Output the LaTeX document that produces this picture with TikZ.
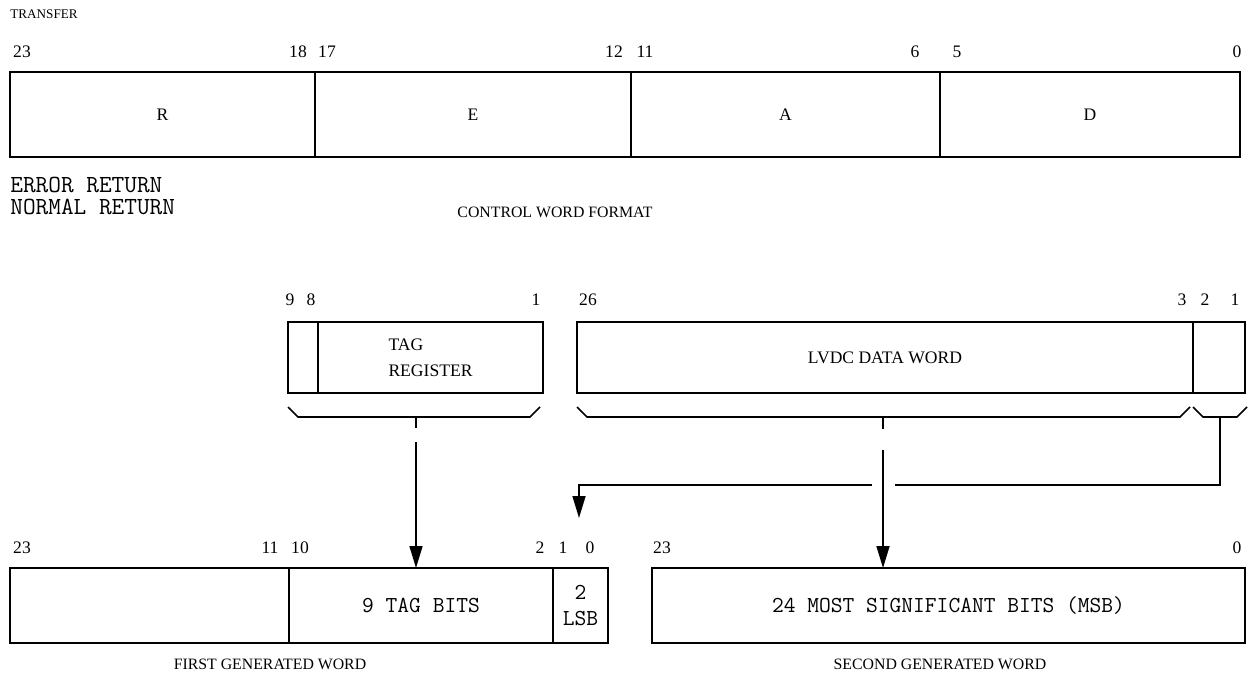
\documentclass[tikz,border=0pt]{standalone}
\usepackage{fontspec}
\setmainfont{Liberation Serif}
\usepackage{tikz}
\usetikzlibrary{arrows.meta}
\newcommand{\wordheight}{17mm}
\newcommand{\fieldbrace}[2]{\draw[brace] (#1,407) -- ++(10,10) -- (#2-10,417) -- ++(10,-10);}
\tikzstyle{field}=[draw, line width=1.1pt, inner sep=0, outer sep=0, minimum height=\wordheight, font=\fontsize{10}{15}\selectfont]
\tikzstyle{rfield}=[field, minimum height=14.2mm]
\tikzstyle{gfield}=[field, minimum height=15mm, font=\ttfamily\fontsize{13}{14.5}\selectfont]
\tikzstyle{bitno}=[inner sep=0, font=\fontsize{10}{12}\selectfont]
\tikzstyle{caption}=[inner sep=0, font=\fontsize{9}{10}\selectfont]
\tikzstyle{typed}=[inner sep=0, anchor=west, font=\ttfamily\fontsize{14}{16}\selectfont]
\tikzstyle{brace}=[line width=0.9pt]
\tikzstyle{flow}=[line width=0.9pt, -{Triangle[length=4.4mm, width=2.6mm]}]
\tikzstyle{bitmap}=[x=0.2mm, y=-0.2mm,
                    % one unit is one pixel of the scan
                    line join=miter]

\begin{document}
\begin{tikzpicture}[bitmap]
    \useasboundingbox (0,0) rectangle (1253,678);
    % control word
    \node[caption, anchor=west, font=\fontsize{7.5}{9}\selectfont] (transfer) at (10,14) {TRANSFER};
    \node[field, minimum width=61mm] (R) at (162.5,114.5) {R};
    \node[field, minimum width=63.2mm] (E) at (473,114.5) {E};
    \node[field, minimum width=61.8mm] (A) at (785.5,114.5) {A};
    \node[field, minimum width=60mm] (D) at (1090,114.5) {D};
    \foreach \n/\x in {23/22, 18/298, 17/327, 12/614, 11/645, 6/915, 5/957, 0/1237}
        \node[bitno] at (\x,52) {\n};
    \node[typed] (error) at (10,185) {ERROR RETURN};
    \node[typed] (normal) at (10,207) {NORMAL RETURN};
    \node[caption] (cwf) at (555,212) {CONTROL WORD FORMAT};

    % tag register and data word
    \node[rfield, minimum width=6mm] (tagpad) at (303,357.5) {};
    \node[rfield, minimum width=45mm, align=left] (tag) at (430.5,357.5) {TAG\\REGISTER};
    \node[rfield, minimum width=123.2mm] (data) at (885,357.5) {LVDC DATA WORD};
    \node[rfield, minimum width=10.4mm] (low) at (1219,357.5) {};
    \foreach \n/\x in {9/290, 8/311, 1/536, 26/588, 3/1182, 2/1205, 1/1235}
        \node[bitno] at (\x,300) {\n};
    \fieldbrace{288}{540}
    \fieldbrace{577}{1190}
    \fieldbrace{1193}{1247}

    % generated words
    \node[gfield, minimum width=55.8mm] (high) at (149.5,605.5) {};
    \node[gfield, minimum width=52.8mm] (tagbits) at (421,605.5) {9 TAG BITS};
    \node[gfield, minimum width=11mm, align=center] (lsb) at (580.5,605.5) {2\\LSB};
    \node[gfield, minimum width=118.6mm] (msb) at (948.5,605.5) {24 MOST SIGNIFICANT BITS (MSB)};
    \foreach \n/\x in {23/22, 11/270, 10/300, 2/540, 1/563, 0/590, 23/662, 0/1237}
        \node[bitno] at (\x,548) {\n};
    \node[caption] (first) at (270,664) {FIRST GENERATED WORD};
    \node[caption] (second) at (940,664) {SECOND GENERATED WORD};

    \coordinate (tagtip) at (416,417);
    \coordinate (tagfrom) at (416,442);
    \coordinate (datatip) at (883,417);
    \coordinate (datafrom) at (883,450);
    \coordinate (lowtip) at (1220,417);
    \coordinate (hop) at (883,485);
    \coordinate (lsbin) at (579,518);
    \draw[brace] (tagtip) -- +(0,11);
    \draw[flow] (tagfrom) -- (tagfrom |- tagbits.north);
    \draw[brace] (datatip) -- +(0,12);
    \draw[flow] (datafrom) -- (datafrom |- msb.north);
    \draw[brace] (lowtip) |- ([xshift=2.4mm]hop);
    \draw[flow] ([xshift=-2.2mm]hop) -| (lsbin);
\end{tikzpicture}
\end{document}
